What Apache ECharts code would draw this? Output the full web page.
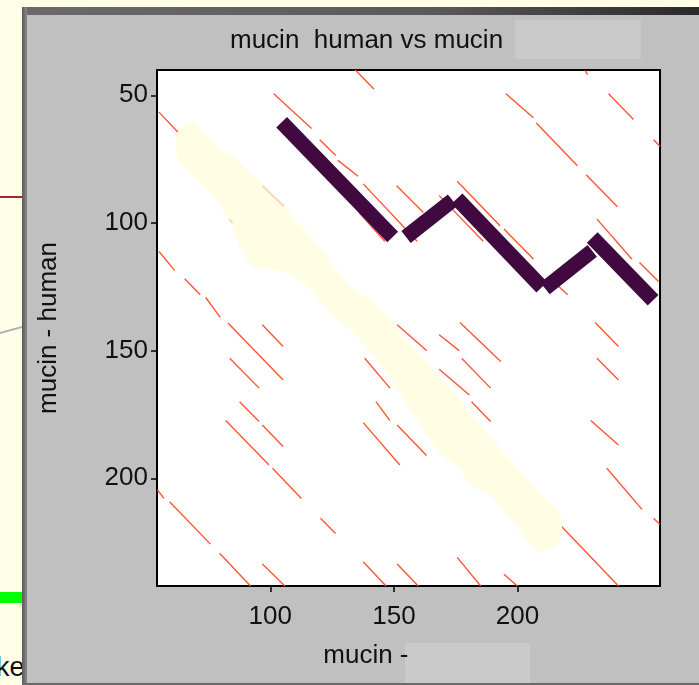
<!DOCTYPE html>
<html>
<head>
<meta charset="utf-8">
<script src="https://cdn.jsdelivr.net/npm/echarts@6/dist/echarts.min.js"></script>
<style>
  html, body { margin: 0; padding: 0; background: #ffffe8; overflow: hidden; }
  #panel { position: absolute; left: 22px; top: 7px; width: 677px; height: 678px; background: #c0c0c0; }
  #panelLeft { position: absolute; left: 22px; top: 7px; width: 5px; height: 678px; background: linear-gradient(to right, #5a5a5a, #8a8a8a); }
  #panelTop { position: absolute; left: 22px; top: 7px; width: 677px; height: 8px; background: linear-gradient(to right, #6a6a6a, #5a5a5a 60%, #2a2a2a); }
  #panelBottom { position: absolute; left: 22px; top: 683px; width: 677px; height: 2px; background: #6a6a6a; }
  #green { position: absolute; left: 0; top: 592px; width: 22px; height: 11px; background: #00ff00; }
  #ke { position: absolute; left: -4px; top: 652px; font: 27px 'Liberation Sans', sans-serif; color: #111; }
  #strip { position: absolute; left: 0; top: 0; }
  #chart { position: absolute; left: 0; top: 0; width: 699px; height: 685px; }
</style>
</head>
<body>
<svg id="strip" width="22" height="685">
  <line x1="0" y1="197" x2="22" y2="197" stroke="#a8203c" stroke-width="2"/>
  <line x1="0" y1="333" x2="22" y2="327" stroke="#b0b0c0" stroke-width="2"/>
</svg>
<div id="green"></div>
<div id="ke">ke</div>
<div id="panel"></div>
<div id="panelTop"></div>
<div id="panelLeft"></div>
<div id="panelBottom"></div>
<div id="chart"></div>
<script>
// tick labels
var xTicks = [100, 150, 200];
var yTicks = [50, 100, 150, 200];

// red dot-plot matches: [x1, y1, x2, y2]
var dotSegments = [
    [134.4, 40.1, 141.9, 47.5],
    [101.4, 49.4, 116.7, 63.0],
    [55.0, 56.6, 62.7, 64.5],
    [120.0, 67.4, 126.5, 73.6],
    [127.4, 75.5, 135.5, 81.7],
    [137.6, 84.7, 159.4, 107.2],
    [151.1, 85.4, 161.9, 95.9],
    [136.0, 96.0, 146.3, 107.2],
    [55.0, 111.2, 61.3, 118.6],
    [65.4, 121.9, 71.7, 128.1],
    [73.9, 129.2, 79.8, 137.0],
    [227.3, 40.3, 228.3, 41.9],
    [195.3, 49.4, 206.4, 58.8],
    [236.8, 49.4, 246.9, 59.5],
    [207.5, 60.8, 224.2, 77.6],
    [255.0, 67.4, 257.6, 70.0],
    [227.7, 81.1, 240.4, 93.7],
    [175.6, 83.7, 192.9, 101.1],
    [194.5, 102.4, 206.4, 114.1],
    [232.1, 98.5, 246.2, 114.1],
    [249.3, 115.5, 257.0, 122.9],
    [168.3, 89.3, 186.1, 107.2],
    [215.9, 124.2, 220.3, 128.1],
    [82.9, 139.2, 105.2, 161.5],
    [96.8, 139.9, 105.2, 148.4],
    [83.6, 153.0, 95.5, 164.7],
    [87.6, 170.0, 95.5, 177.8],
    [82.0, 177.4, 99.5, 194.8],
    [96.8, 179.1, 105.2, 187.6],
    [100.9, 196.1, 112.6, 207.9],
    [54.4, 204.6, 57.0, 207.9],
    [59.3, 209.2, 75.8, 225.8],
    [120.3, 215.7, 126.4, 221.6],
    [79.5, 229.4, 92.0, 242.2],
    [96.8, 233.6, 105.9, 242.2],
    [137.6, 232.7, 146.8, 242.2],
    [151.3, 233.6, 159.8, 242.2],
    [138.2, 153.0, 148.4, 164.7],
    [142.7, 170.0, 148.4, 177.4],
    [137.6, 178.2, 152.4, 194.8],
    [151.3, 139.9, 163.2, 150.0],
    [151.3, 179.1, 163.2, 191.1],
    [176.7, 139.0, 193.2, 154.3],
    [168.3, 143.8, 176.4, 150.0],
    [177.4, 153.0, 189.1, 164.7],
    [168.3, 157.3, 180.5, 167.4],
    [181.4, 170.0, 189.1, 177.8],
    [231.4, 139.0, 240.8, 148.4],
    [232.1, 153.0, 240.8, 161.5],
    [229.6, 177.4, 240.8, 187.0],
    [236.1, 196.1, 250.3, 212.2],
    [255.0, 215.7, 257.5, 218.0],
    [217.9, 219.0, 240.8, 242.2],
    [175.6, 231.0, 185.1, 242.2],
    [194.5, 237.6, 199.9, 242.2]
];

// matches seen faintly through the highlight
var faintSegments = [
    [96.8, 85.4, 105.5, 93.5],
    [83.3, 98.5, 84.7, 100.0]
];

// hand-drawn purple path pieces
var pathSegments = [
    [104.6, 60.6, 149.5, 105.5],
    [154.9, 105.5, 173.7, 91.2],
    [175.5, 90.5, 209.8, 125.2],
    [211.1, 125.6, 230.2, 110.9],
    [230.2, 105.7, 254.8, 130.3]
];

// cream highlight outline (data units)
var highlightOutline = [
    [67.4, 60.3], [70.2, 61.5], [75.5, 67.4], [80.4, 72.1], [83.6, 72.8],
    [90.5, 79.1], [95.7, 83.8], [99.8, 88.1], [106.7, 93.6], [109.1, 97.6],
    [120.0, 109.3], [132.2, 125.0], [140.3, 130.1], [148.4, 137.9], [152.4, 143.0],
    [169.8, 161.5], [180.8, 174.0], [188.9, 183.8], [198.2, 194.0], [209.1, 205.8],
    [213.1, 209.7], [216.4, 212.5], [218.0, 219.1], [216.4, 225.4], [211.9, 228.1],
    [207.9, 228.9], [207.1, 228.1], [194.1, 212.5], [188.9, 206.6], [184.8, 204.6],
    [180.8, 202.6], [175.9, 195.6], [168.6, 190.0], [156.5, 173.2], [152.4, 166.6],
    [145.5, 156.4], [137.4, 147.0], [131.0, 140.7], [126.9, 137.9], [120.0, 130.1],
    [111.9, 122.3], [107.9, 119.9], [101.0, 118.3], [92.9, 116.8], [88.9, 111.7],
    [86.4, 106.6], [84.4, 100.7], [81.6, 96.0], [78.3, 90.9], [71.4, 84.2],
    [66.2, 79.1], [62.5, 74.0], [61.7, 68.5], [62.5, 64.6], [64.6, 61.9]
];

function toLines(segs) {
    return segs.map(function (s) {
        return { coords: [[s[0], s[1]], [s[2], s[3]]] };
    });
}

var font = "'Liberation Sans', Arial, sans-serif";

var chart = echarts.init(document.getElementById('chart'), null, { renderer: 'canvas' });
chart.setOption({
    animation: false,
    backgroundColor: 'transparent',
    title: {
        text: 'mucin  human vs mucin',
        left: 225,
        top: 23,
        textStyle: { fontSize: 26, fontWeight: 'normal', color: '#111', fontFamily: font }
    },
    grid: {
        left: 157, top: 70, width: 503, height: 516,
        show: true, backgroundColor: '#fff', borderColor: '#000', borderWidth: 2
    },
    xAxis: {
        type: 'value',
        min: 54.2, max: 257.6,
        axisLine: { show: false },
        splitLine: { show: false },
        axisTick: { show: true, customValues: xTicks, length: 6, lineStyle: { color: '#000', width: 1.5 } },
        axisLabel: { customValues: xTicks, margin: 18, fontSize: 26, color: '#111', fontFamily: font },
        name: 'mucin -',
        nameLocation: 'middle',
        nameGap: 57,
        nameTextStyle: { fontSize: 26, color: '#111', align: 'right', fontFamily: font }
    },
    yAxis: {
        type: 'value',
        inverse: true,
        min: 40.1, max: 242.2,
        axisLine: { show: false },
        splitLine: { show: false },
        axisTick: { show: true, customValues: yTicks, length: 6, lineStyle: { color: '#000', width: 1.5 } },
        axisLabel: { customValues: yTicks, margin: 9, fontSize: 26, color: '#111', fontFamily: font },
        name: 'mucin - human',
        nameLocation: 'middle',
        nameRotate: 90,
        nameGap: 95,
        nameTextStyle: { fontSize: 26, color: '#111', fontFamily: font }
    },
    graphic: [
        { type: 'rect', left: 515, top: 20, shape: { width: 126, height: 39 }, style: { fill: '#c9c9c9' } },
        { type: 'rect', left: 405, top: 643, shape: { width: 125, height: 40 }, style: { fill: '#cacaca' } }
    ],
    series: [
        {
            type: 'lines',
            coordinateSystem: 'cartesian2d',
            z: 2,
            silent: true,
            lineStyle: { color: '#ff5533', width: 1.4, opacity: 1 },
            data: toLines(dotSegments)
        },
        {
            type: 'custom',
            coordinateSystem: 'cartesian2d',
            z: 3,
            silent: true,
            data: highlightOutline,
            renderItem: function (params, api) {
                if (params.dataIndex !== 0) return null;
                var pts = highlightOutline.map(function (p) { return api.coord(p); });
                return {
                    type: 'polygon',
                    shape: { points: pts, smooth: 0.3 },
                    style: { fill: '#fffde3' }
                };
            }
        },
        {
            type: 'lines',
            coordinateSystem: 'cartesian2d',
            z: 4,
            silent: true,
            lineStyle: { color: '#ffc7b4', width: 1.4, opacity: 1 },
            data: toLines(faintSegments)
        },
        {
            type: 'lines',
            coordinateSystem: 'cartesian2d',
            z: 5,
            silent: true,
            lineStyle: { color: '#400a40', width: 15, opacity: 1, cap: 'butt' },
            data: toLines(pathSegments)
        }
    ]
});
</script>
</body>
</html>
